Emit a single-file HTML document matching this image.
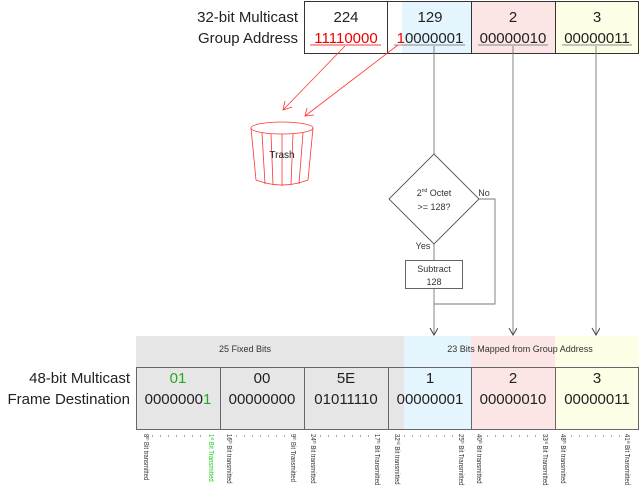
<!DOCTYPE html>
<html><head><style>body{margin:0;background:#fff}svg{display:block}text{font-family:"Liberation Sans",sans-serif}</style></head><body>
<svg width="640" height="490" viewBox="0 0 640 490" xmlns="http://www.w3.org/2000/svg">
<defs>
<marker id="ag" markerWidth="10" markerHeight="10" refX="8" refY="4" orient="auto" markerUnits="userSpaceOnUse"><path d="M1,0 L8,4 L1,8" fill="none" stroke="#444" stroke-width="1"/></marker>
</defs>
<rect x="402" y="1" width="69" height="52" fill="#e5f5fd"/>
<rect x="471" y="1" width="84" height="52" fill="#fbe5e5"/>
<rect x="555" y="1" width="84" height="52" fill="#fefde5"/>
<rect x="304.5" y="1.5" width="334" height="52" fill="none" stroke="#333"/>
<line x1="387.5" y1="1" x2="387.5" y2="53" stroke="#333"/>
<line x1="471.5" y1="1" x2="471.5" y2="53" stroke="#333"/>
<line x1="555.5" y1="1" x2="555.5" y2="53" stroke="#333"/>
<g font-size="15" text-anchor="end" fill="#222"><text x="298" y="22">32-bit Multicast</text><text x="298" y="43">Group Address</text></g>
<g font-size="15" text-anchor="middle" fill="#222">
<text x="346" y="22">224</text><text x="430" y="22">129</text><text x="513" y="22">2</text><text x="597" y="22">3</text>
<text x="346" y="43" fill="#e00">11110000</text>
<text x="430" y="43"><tspan fill="#e00">1</tspan>0000001</text>
<text x="513" y="43">00000010</text><text x="597" y="43">00000011</text>
</g>
<line x1="310" y1="45" x2="381" y2="45" stroke="#e00" stroke-width="0.8"/>
<line x1="394" y1="45" x2="465" y2="45" stroke="#666" stroke-width="0.8"/>
<line x1="478" y1="45" x2="548" y2="45" stroke="#666" stroke-width="0.8"/>
<line x1="562" y1="45" x2="632" y2="45" stroke="#666" stroke-width="0.8"/>
<g stroke="#f33" stroke-width="0.8" fill="none">
<line x1="345" y1="46" x2="283" y2="110"/><path d="M285,101 L283,110 L292,107"/>
<line x1="398" y1="45" x2="305" y2="116"/><path d="M307,108 L305,116 L314,115"/>
<ellipse cx="282" cy="128" rx="31" ry="6"/>
<path d="M251,128 L256,180 Q282,190 308,180 L313,128"/>
<line x1="262" y1="133" x2="265" y2="184"/><line x1="271" y1="134" x2="273" y2="185"/><line x1="282" y1="134" x2="282" y2="186"/><line x1="293" y1="134" x2="291" y2="185"/><line x1="303" y1="133" x2="299" y2="184"/>
</g>
<text x="282" y="158" font-size="10" text-anchor="middle" fill="#222">Trash</text>
<g stroke="#777" stroke-width="0.9" fill="none">
<line x1="434" y1="46" x2="434" y2="154"/>
<path d="M434,154 L479,199 L434,244 L389,199 Z" stroke="#555"/>
<line x1="434" y1="244" x2="434" y2="260"/>
<rect x="405.5" y="260.5" width="57" height="28" stroke="#555"/>
<line x1="434" y1="289" x2="434" y2="335" marker-end="url(#ag)"/>
<path d="M479,199 L495,199 L495,304 L434,304"/>
<line x1="513" y1="46" x2="513" y2="335" marker-end="url(#ag)"/>
<line x1="596" y1="46" x2="596" y2="335" marker-end="url(#ag)"/>
</g>
<g font-size="9" fill="#333" text-anchor="middle">
<text x="434" y="196">2<tspan font-size="5" dy="-4">nd</tspan><tspan dy="4"> Octet</tspan></text>
<text x="434" y="210">&gt;= 128?</text>
<text x="484" y="196">No</text>
<text x="423" y="249">Yes</text>
<text x="434" y="272">Subtract</text><text x="434" y="285">128</text>
</g>
<rect x="136" y="336" width="268" height="31" fill="#e6e6e6"/>
<rect x="136" y="367" width="252" height="63" fill="#e6e6e6"/>
<rect x="388" y="367" width="16" height="63" fill="#e6e6e6"/>
<rect x="404" y="336" width="67" height="94" fill="#e5f5fd"/>
<rect x="471" y="336" width="84" height="94" fill="#fbe5e5"/>
<rect x="555" y="336" width="84" height="94" fill="#fefde5"/>
<text x="245" y="352" font-size="9" text-anchor="middle" fill="#333">25 Fixed Bits</text>
<text x="520" y="352" font-size="9" text-anchor="middle" fill="#333">23 Bits Mapped from Group Address</text>
<rect x="136.5" y="367.5" width="502" height="62" fill="none" stroke="#666"/>
<g stroke="#666"><line x1="220.5" y1="367" x2="220.5" y2="430"/><line x1="304.5" y1="367" x2="304.5" y2="430"/><line x1="388.5" y1="367" x2="388.5" y2="430"/><line x1="471.5" y1="367" x2="471.5" y2="430"/><line x1="555.5" y1="367" x2="555.5" y2="430"/></g>
<g font-size="15" text-anchor="end" fill="#222"><text x="130" y="383">48-bit Multicast</text><text x="130" y="404">Frame Destination</text></g>
<g font-size="15" text-anchor="middle" fill="#222">
<text x="178" y="383" fill="#2a2">01</text><text x="262" y="383">00</text><text x="346" y="383">5E</text><text x="430" y="383">1</text><text x="513" y="383">2</text><text x="597" y="383">3</text>
<text x="178" y="404">0000000<tspan fill="#2a2">1</tspan></text><text x="262" y="404">00000000</text><text x="346" y="404">01011110</text><text x="430" y="404">00000001</text><text x="513" y="404">00000010</text><text x="597" y="404">00000011</text>
</g>
<g font-size="7.5" fill="#333">
<text transform="translate(144,434) rotate(90) scale(0.8,1)">8<tspan font-size="4.5" dy="-2">th</tspan><tspan dy="2"> Bit transmitted</tspan></text>
<text transform="translate(209,434) rotate(90) scale(0.8,1)" fill="#2c2">1<tspan font-size="4.5" dy="-2">st</tspan><tspan dy="2"> Bit Transmitted</tspan></text>
<text transform="translate(227,434) rotate(90) scale(0.8,1)">16<tspan font-size="4.5" dy="-2">th</tspan><tspan dy="2"> Bit transmitted</tspan></text>
<text transform="translate(291,434) rotate(90) scale(0.8,1)">9<tspan font-size="4.5" dy="-2">th</tspan><tspan dy="2"> Bit Transmitted</tspan></text>
<text transform="translate(311,434) rotate(90) scale(0.8,1)">24<tspan font-size="4.5" dy="-2">th</tspan><tspan dy="2"> Bit transmitted</tspan></text>
<text transform="translate(375,434) rotate(90) scale(0.8,1)">17<tspan font-size="4.5" dy="-2">th</tspan><tspan dy="2"> Bit Transmitted</tspan></text>
<text transform="translate(395,434) rotate(90) scale(0.8,1)">32<tspan font-size="4.5" dy="-2">nd</tspan><tspan dy="2"> Bit transmitted</tspan></text>
<text transform="translate(459,434) rotate(90) scale(0.8,1)">25<tspan font-size="4.5" dy="-2">th</tspan><tspan dy="2"> Bit Transmitted</tspan></text>
<text transform="translate(477,434) rotate(90) scale(0.8,1)">40<tspan font-size="4.5" dy="-2">th</tspan><tspan dy="2"> Bit transmitted</tspan></text>
<text transform="translate(543,434) rotate(90) scale(0.8,1)">33<tspan font-size="4.5" dy="-2">rd</tspan><tspan dy="2"> Bit Transmitted</tspan></text>
<text transform="translate(561,434) rotate(90) scale(0.8,1)">48<tspan font-size="4.5" dy="-2">th</tspan><tspan dy="2"> Bit transmitted</tspan></text>
<text transform="translate(625,434) rotate(90) scale(0.8,1)">41<tspan font-size="4.5" dy="-2">st</tspan><tspan dy="2"> Bit Transmitted</tspan></text>
</g>
<g stroke="#555" stroke-width="1" stroke-dasharray="1 7">
<line x1="152" y1="436" x2="205" y2="436"/><line x1="236" y1="436" x2="288" y2="436"/><line x1="320" y1="436" x2="372" y2="436"/><line x1="404" y1="436" x2="456" y2="436"/><line x1="487" y1="436" x2="540" y2="436"/><line x1="571" y1="436" x2="622" y2="436"/>
</g>
</svg>
</body></html>
